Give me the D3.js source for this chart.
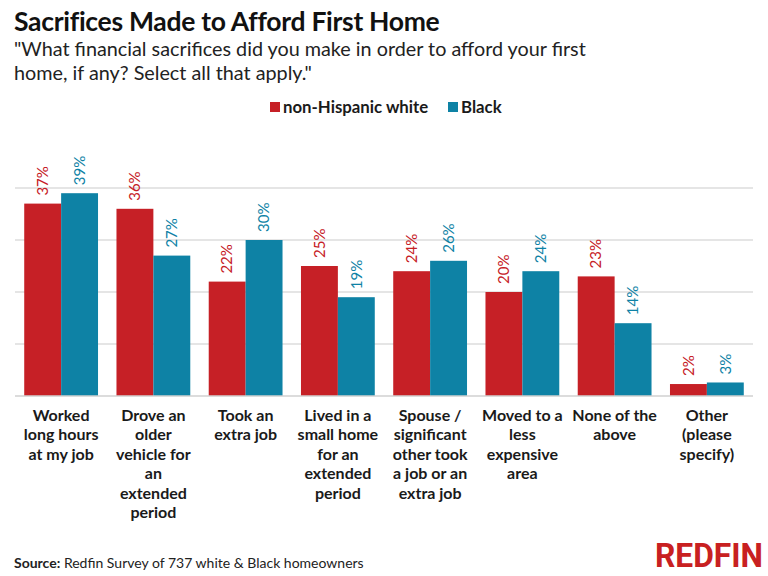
<!DOCTYPE html>
<html>
<head>
<meta charset="utf-8">
<script src="https://cdn.jsdelivr.net/npm/d3@7"></script>
<style>
  body { margin: 0; background: #fff; }
  svg { display: block; font-family: Lato, "Open Sans", sans-serif; }
</style>
</head>
<body>
<div id="chart"></div>
<script>
// --- Data ---
const categories = [
  ['Worked', 'long hours', 'at my job'],
  ['Drove an', 'older', 'vehicle for', 'an', 'extended', 'period'],
  ['Took an', 'extra job'],
  ['Lived in a', 'small home', 'for an', 'extended', 'period'],
  ['Spouse /', 'significant', 'other took', 'a job or an', 'extra job'],
  ['Moved to a', 'less', 'expensive', 'area'],
  ['None of the', 'above'],
  ['Other', '(please', 'specify)']
];
// bar heights; labels are the rounded values
const whiteValues = [37, 36, 22, 25, 24, 20, 23, 2.3];
const blackValues = [39, 27, 30, 19, 26, 24, 14, 2.6];
const seriesNames = ['non-Hispanic white', 'Black'];
const gridTicks = [10, 20, 30, 40];

const RED = '#c62026';
const BLUE = '#0e82a5';

// --- Setup ---
const width = 768, height = 576;
const svg = d3.select('#chart').append('svg')
  .attr('width', width)
  .attr('height', height);

const x0 = d3.scaleBand()
  .domain(d3.range(categories.length))
  .range([15, 753])
  .paddingInner(0.2)
  .paddingOuter(0.1);

const x1 = d3.scaleBand()
  .domain([0, 1])
  .range([0, x0.bandwidth()]);

const y = d3.scaleLinear().domain([0, 40]).range([396, 188]);

// gridlines
svg.append('g').selectAll('line')
  .data(gridTicks)
  .join('line')
  .attr('x1', 15).attr('x2', 753)
  .attr('y1', d => y(d)).attr('y2', d => y(d))
  .attr('stroke', '#dcdcdc')
  .attr('stroke-width', 1.5);

// bars
const groups = svg.append('g').selectAll('g')
  .data(categories.map((c, i) => ({ i, vals: [whiteValues[i], blackValues[i]] })))
  .join('g')
  .attr('transform', d => `translate(${x0(d.i)},0)`);

groups.selectAll('rect')
  .data(d => d.vals.map((v, s) => ({ v, s })))
  .join('rect')
  .attr('x', d => x1(d.s))
  .attr('width', x1.bandwidth())
  .attr('y', d => y(d.v))
  .attr('height', d => y(0) - y(d.v))
  .attr('fill', d => d.s === 0 ? RED : BLUE);

groups.selectAll('text.val')
  .data(d => d.vals.map((v, s) => ({ v, s })))
  .join('text')
  .attr('class', 'val')
  .attr('transform', d => `translate(${x1(d.s) + x1.bandwidth() / 2},${y(d.v) - 8}) rotate(-90)`)
  .attr('dy', '0.35em')
  .attr('font-size', 15)
  .attr('fill', d => d.s === 0 ? RED : BLUE)
  .text(d => Math.round(d.v) + '%');

// baseline
svg.append('line')
  .attr('x1', 15).attr('x2', 753)
  .attr('y1', y(0)).attr('y2', y(0))
  .attr('stroke', '#d0d0d0')
  .attr('stroke-width', 1.5);

// category labels
const catText = svg.append('g').selectAll('text')
  .data(categories)
  .join('text')
  .attr('x', (d, i) => x0(i) + x0.bandwidth() / 2)
  .attr('y', 421)
  .attr('text-anchor', 'middle')
  .attr('font-size', 16)
  .attr('font-weight', 700)
  .attr('fill', '#1a1a1a');
catText.selectAll('tspan')
  .data(d => d)
  .join('tspan')
  .attr('x', function() { return this.parentNode.getAttribute('x'); })
  .attr('dy', (d, j) => j === 0 ? 0 : 19.4)
  .text(d => d);

// --- Titles ---
svg.append('text')
  .attr('x', 14).attr('y', 31)
  .attr('font-size', 26.5)
  .attr('font-weight', 700)
  .attr('letter-spacing', -0.3)
  .attr('fill', '#111')
  .text('Sacrifices Made to Afford First Home');

const sub = svg.append('text')
  .attr('x', 14).attr('y', 56)
  .attr('font-size', 19.8)
  .attr('fill', '#222');
sub.selectAll('tspan')
  .data(['"What financial sacrifices did you make in order to afford your first', 'home, if any? Select all that apply."'])
  .join('tspan')
  .attr('x', 14)
  .attr('dy', (d, i) => i === 0 ? 0 : 24)
  .text(d => d);

// legend
const legendItems = [
  { name: seriesNames[0], color: RED, x: 270 },
  { name: seriesNames[1], color: BLUE, x: 448 }
];
const lg = svg.append('g').selectAll('g')
  .data(legendItems)
  .join('g')
  .attr('transform', d => `translate(${d.x},107)`);
lg.append('rect')
  .attr('x', 0).attr('y', -5)
  .attr('width', 10).attr('height', 10)
  .attr('fill', d => d.color);
lg.append('text')
  .attr('x', 13)
  .attr('dy', '0.35em')
  .attr('font-size', 16.8)
  .attr('font-weight', 700)
  .attr('fill', '#1a1a1a')
  .text(d => d.name);

// source
const src = svg.append('text')
  .attr('x', 14).attr('y', 568)
  .attr('font-size', 14)
  .attr('fill', '#222');
src.append('tspan').attr('font-weight', 700).text('Source:');
src.append('tspan').text(' Redfin Survey of 737 white & Black homeowners');

// logo
svg.append('text')
  .attr('x', 655).attr('y', 567)
  .attr('font-family', '"Liberation Sans Narrow", "Roboto", sans-serif')
  .attr('font-size', 33)
  .attr('font-weight', 700)
  .attr('textLength', 108)
  .attr('lengthAdjust', 'spacingAndGlyphs')
  .attr('fill', '#c82021')
  .text('REDFIN');
</script>
</body>
</html>
